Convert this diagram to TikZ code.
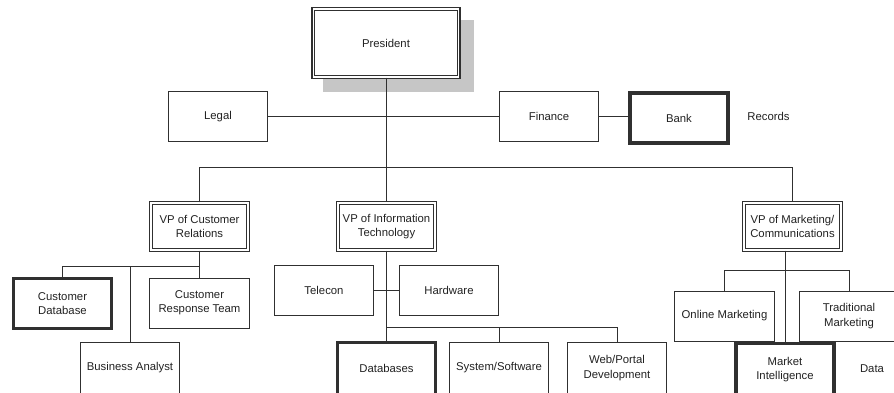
\documentclass[tikz,border=0pt]{standalone}
\usepackage{fontspec}
\setmainfont{Liberation Sans}
\definecolor{linec}{HTML}{303030}
\definecolor{txtc}{HTML}{222222}
\definecolor{shadowc}{HTML}{C6C6C6}
\begin{document}
\begin{tikzpicture}[x=0.75pt,y=-0.75pt,
  font=\fontsize{8.5}{10.75}\selectfont,
  box/.style={draw=linec, line width=0.75pt, fill=white, minimum width=74.5pt, minimum height=37.5pt, align=center, inner sep=1pt, text=txtc},
  dbox/.style={box, double=white, double distance=1.2pt, line width=0.8pt, minimum width=73pt, minimum height=35.5pt},
  tbox/.style={box, line width=2.3pt, minimum width=73.5pt, minimum height=37.5pt},
  txt/.style={text=txtc, inner sep=1pt},
  link/.style={draw=linec, line width=0.75pt}]
\clip (0,0) rectangle (894,393);
\fill[white] (0,0) rectangle (894,393);
% shadow of President box
\fill[shadowc] (323,20) rectangle (474,92);
% nodes
\node[dbox, minimum width=109pt, minimum height=51pt] (pres) at (386,43) {President};
\node[box] (legal) at (218,116.5) {Legal};
\node[box] (fin) at (549,116.5) {Finance};
\node[tbox] (bank) at (679,118) {Bank};
\node[txt] (rec) at (768.5,116) {Records};
\node[dbox] (vp1) at (199.5,226.5) {VP of Customer\\Relations};
\node[dbox] (vp2) at (386.5,226.5) {VP of Information\\Technology};
\node[dbox] (vp3) at (792.5,226.5) {VP of Marketing/\\Communications};
\node[tbox] (cdb) at (62.5,303.5) {Customer\\Database};
\node[box] (crt) at (199.5,303) {Customer\\Response Team};
\node[box, minimum height=39pt] (ba) at (130,368) {Business Analyst};
\node[box] (tel) at (324,290.5) {Telecon};
\node[box] (hw) at (449,290.5) {Hardware};
\node[tbox, minimum height=39pt] (db) at (386.5,368.5) {Databases};
\node[box, minimum height=39pt] (sys) at (499,368) {System/Software};
\node[box, minimum height=39pt] (web) at (617,368) {Web/Portal\\Development};
\node[box] (onl) at (724.5,316) {Online Marketing};
\node[box] (trad) at (849,316) {Traditional\\Marketing};
\node[tbox, minimum height=39pt] (mi) at (785,369.5) {Market\\Intelligence};
\node[txt] (data) at (872,369) {Data};
% junction coordinates
\coordinate (j0) at (386,167);
\coordinate (j1) at (199.5,266);
\coordinate (j2) at (386.5,327);
\coordinate (j3) at (785,270);
% connectors
\draw[link] (pres.south) -- (pres.south |- vp2.north);
\draw[link] (vp1.north) -- (vp1.north |- j0) -- (vp3.north |- j0) -- (vp3.north);
\draw[link] (legal.east) -- (fin.west);
\draw[link] (fin.east) -- (fin.east -| bank.west);
\draw[link] (vp1.south) -- (crt.north);
\draw[link] (cdb.north) -- (cdb.north |- j1) -- (j1);
\draw[link] (ba.north) -- (ba.north |- j1);
\draw[link] (vp2.south) -- (vp2.south |- db.north);
\draw[link] (tel.east) -- (hw.west);
\draw[link] (j2) -- (j2 -| web.north) -- (web.north);
\draw[link] (sys.north) -- (sys.north |- j2);
\draw[link] (mi.north |- vp3.south) -- (mi.north);
\draw[link] (onl.north) -- (onl.north |- j3) -- (j3 -| trad.north) -- (trad.north);
\end{tikzpicture}
\end{document}
